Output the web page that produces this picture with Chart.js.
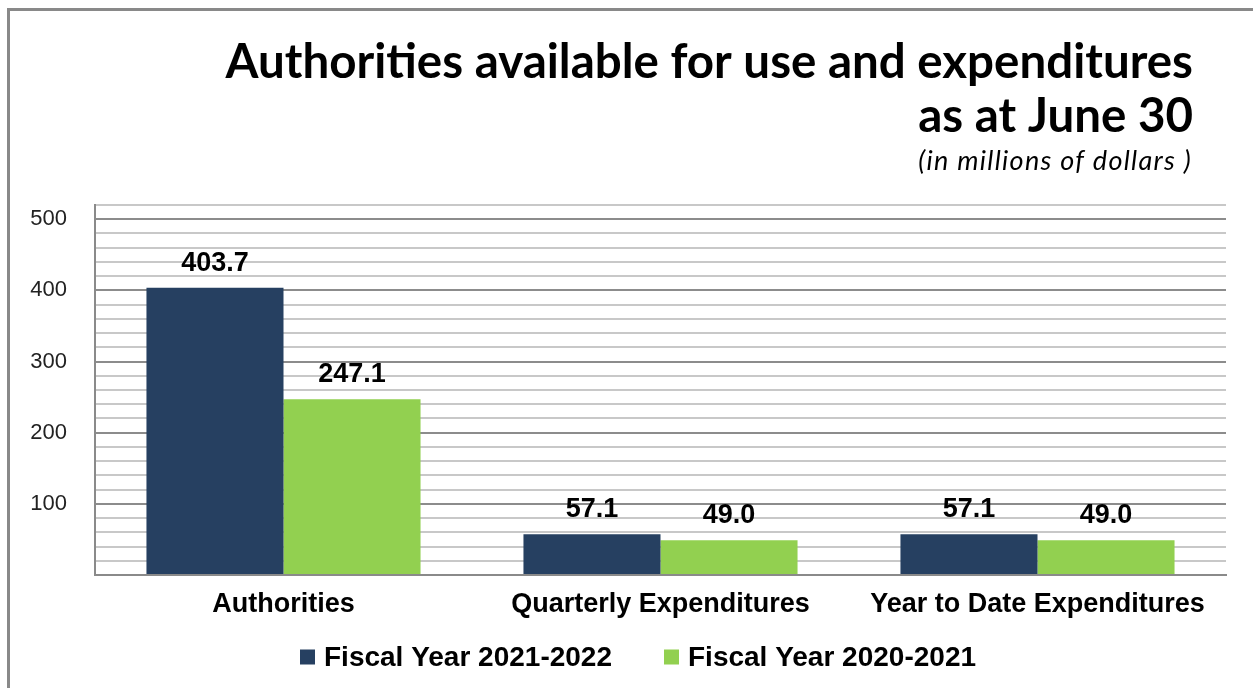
<!DOCTYPE html>
<html>
<head>
<meta charset="utf-8">
<title>Authorities available for use and expenditures</title>
<script src="https://cdn.jsdelivr.net/npm/chart.js@4.4.1/dist/chart.umd.min.js"></script>
<style>
    html, body { margin: 0; padding: 0; background: #fff; }
    #wrap { position: relative; width: 1253px; height: 688px; overflow: hidden; }
    #frame {
        position: absolute; left: 7px; top: 8px; width: 1400px; height: 800px;
        border-left: 3px solid #898989; border-top: 3px solid #898989;
    }
    #chart { position: absolute; left: 0; top: 0; }
</style>
</head>
<body>
<div id="wrap">
    <div id="frame"></div>
    <canvas id="chart" width="1253" height="688"></canvas>
</div>
<script>
// Data
const categories = ['Authorities', 'Quarterly Expenditures', 'Year to Date Expenditures'];
const fy2021_2022 = [403.7, 57.1, 57.1];
const fy2020_2021 = [247.1, 49.0, 49.0];
const seriesNames = ['Fiscal Year 2021-2022', 'Fiscal Year 2020-2021'];
const titleLines = ['Authorities available for use and expenditures', 'as at June 30'];
const subtitleText = '(in millions of dollars )';
const yMax = 520;
const yMinorStep = 20;
const yLabelStep = 100;

// Colours
const NAVY = '#264061';
const GREEN = '#92D050';
const BOLD_FONT = '"Liberation Sans", Arial, sans-serif';

/**
 * Right-aligned title block drawn above the plot
 */
const titleBlock = {
    id: 'titleBlock',
    afterDraw(chart) {
        const ctx = chart.ctx;
        ctx.save();
        ctx.fillStyle = '#000';
        ctx.textAlign = 'right';
        ctx.textBaseline = 'alphabetic';
        ctx.font = 'bold 47.5px Lato';
        ctx.fillText(titleLines[0], 1193, 78);
        ctx.fillText(titleLines[1], 1193, 132);
        ctx.font = 'italic 27px Lato';
        ctx.letterSpacing = '1.3px';
        ctx.fillText(subtitleText, 1192, 170);
        ctx.restore();
    }
};

/**
 * Legend row under the category labels (square swatch + bold text)
 */
const legendRow = {
    id: 'legendRow',
    afterDraw(chart) {
        const ctx = chart.ctx;
        const y = 657;
        let x = 300;
        ctx.save();
        ctx.font = 'bold 28px ' + BOLD_FONT;
        ctx.textAlign = 'left';
        ctx.textBaseline = 'middle';
        chart.data.datasets.forEach(ds => {
            ctx.fillStyle = ds.backgroundColor;
            ctx.fillRect(x, y - 7.5, 15, 15);
            ctx.fillStyle = '#000';
            ctx.fillText(ds.label, x + 24, y + 1);
            x += 24 + ctx.measureText(ds.label).width + 52;
        });
        ctx.restore();
    }
};

/**
 * Value labels above each bar
 */
const barValues = {
    id: 'barValues',
    afterDatasetsDraw(chart) {
        const ctx = chart.ctx;
        ctx.save();
        ctx.fillStyle = '#000';
        ctx.textAlign = 'center';
        ctx.textBaseline = 'alphabetic';
        ctx.font = 'bold 27px ' + BOLD_FONT;
        chart.data.datasets.forEach((ds, i) => {
            chart.getDatasetMeta(i).data.forEach((bar, j) => {
                ctx.fillText(ds.data[j].toFixed(1), bar.x, bar.y - 17);
            });
        });
        ctx.restore();
    }
};

new Chart(document.getElementById('chart'), {
    type: 'bar',
    data: {
        labels: categories,
        datasets: [
            {
                label: seriesNames[0],
                data: fy2021_2022,
                backgroundColor: NAVY,
                categoryPercentage: 0.727,
                barPercentage: 1
            },
            {
                label: seriesNames[1],
                data: fy2020_2021,
                backgroundColor: GREEN,
                categoryPercentage: 0.727,
                barPercentage: 1
            }
        ]
    },
    options: {
        responsive: false,
        animation: false,
        layout: {
            padding: { left: 0, right: 27, top: 205, bottom: 66 }
        },
        plugins: {
            title: { display: false },
            tooltip: { enabled: false },
            legend: { display: false }
        },
        scales: {
            x: {
                afterFit(scale) { scale.height = 47; },
                grid: { display: false, drawTicks: false },
                border: { color: '#8a8a8a', width: 2 },
                ticks: {
                    color: '#000',
                    padding: 16,
                    font: { family: BOLD_FONT, size: 27, weight: 'bold', lineHeight: 1 }
                }
            },
            y: {
                min: 0,
                max: yMax,
                afterFit(scale) { scale.width = 95; },
                border: { color: '#8a8a8a', width: 2 },
                grid: {
                    drawTicks: false,
                    lineWidth: 2,
                    color: ctx => (ctx.tick && ctx.tick.value % yLabelStep === 0) ? '#8c8c8c' : '#c8c8c8'
                },
                ticks: {
                    stepSize: yMinorStep,
                    autoSkip: false,
                    padding: 28,
                    color: '#222',
                    font: { family: BOLD_FONT, size: 22 },
                    callback: v => (v > 0 && v % yLabelStep === 0) ? String(v) : ''
                }
            }
        }
    },
    plugins: [titleBlock, barValues, legendRow]
});
</script>
</body>
</html>
